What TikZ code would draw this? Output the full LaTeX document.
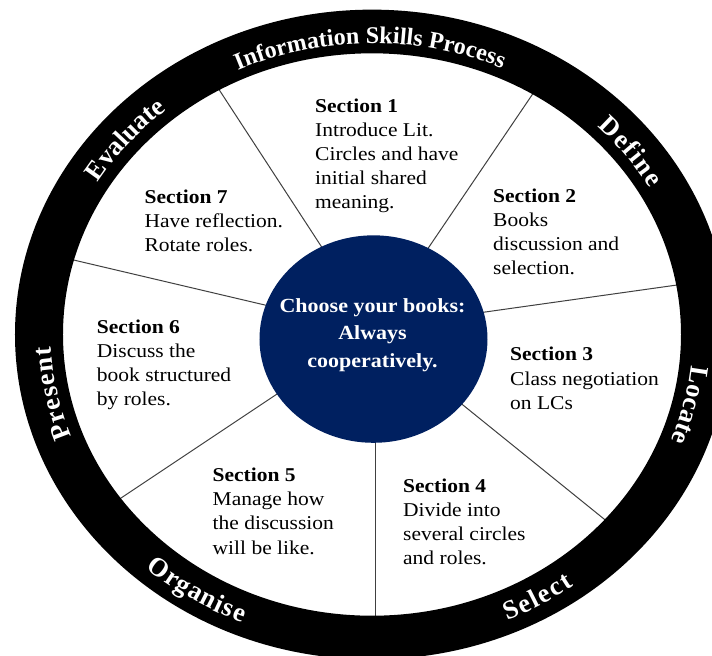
\documentclass[tikz,border=0pt]{standalone}
\usepackage{fontspec}
\setmainfont{Liberation Serif}
\usetikzlibrary{decorations.text,calc}
\definecolor{navy}{RGB}{0,32,96}
\definecolor{spokegray}{RGB}{64,64,64}
\newcommand{\ringfont}{\fontsize{24}{24}\selectfont\bfseries\color{white}}
\newcommand{\ringfontbig}{\fontsize{26.5}{26.5}\selectfont\bfseries\color{white}}
\begin{document}
\begin{tikzpicture}[x=1pt,y=1pt,yscale=0.91,transform shape,
  secbox/.style={anchor=base west, inner sep=0pt, font=\fontsize{21.5}{26.4}\selectfont, text=black},
  centertext/.style={anchor=base, inner sep=0pt, font=\fontsize{22}{30.3}\selectfont\bfseries, text=white},
  spokeline/.style={draw=spokegray, line width=1pt},
  ringlabel/.style={decorate, decoration={text along path, text align={fit to path}, text={|\ringfont|#1}}},
  ringlabelbig/.style={decorate, decoration={text along path, text align={fit to path}, text={|\ringfontbig|#1}}}]
\useasboundingbox (-372,-352.2) rectangle (340,367.6);
\clip (-372,-352.2) rectangle (340,367.6);
\fill[white] (-372,-352.2) rectangle (340,367.6);

% spokes
\coordinate (s1i) at (-51,97.3);   \coordinate (s1o) at (-154,270.9);
\coordinate (s2i) at (57,96.2);    \coordinate (s2o) at (160,263.2);
\coordinate (s3i) at (113,24.7);   \coordinate (s3o) at (305,54.4);
\coordinate (s4i) at (91,-77.5);   \coordinate (s4o) at (232,-202.7);
\coordinate (s5i) at (4,-121.4);   \coordinate (s5o) at (4,-309.3);
\coordinate (s6i) at (-95,-65.4);  \coordinate (s6o) at (-257,-184.1);
\coordinate (s7i) at (-107,32.4);  \coordinate (s7o) at (-307,84.1);
\foreach \k in {1,...,7}{
  \draw[spokeline] ($(s\k o)!1.05!(s\k i)$) -- ($(s\k i)!1.06!(s\k o)$);
}

% outer ring
\fill[black, even odd rule] (0,0) circle[radius=357] (0,0) circle[radius=309];

% centre
\node[circle, fill=navy, minimum size=228pt, inner sep=0pt] (hub) at (1.5,-5) {};
\node[centertext] (hubtext) at (0.5,24.4) {\begin{tabular}[t]{@{}c@{}}Choose your books:\\Always\\cooperatively.\end{tabular}};

% sections
\node[secbox] (sec1) at (-57,244) {\begin{tabular}[t]{@{}l@{}}\textbf{Section 1}\\Introduce Lit.\\Circles and have\\initial shared\\meaning.\end{tabular}};
\node[secbox] (sec2) at (121,145.6) {\begin{tabular}[t]{@{}l@{}}\textbf{Section 2}\\Books\\discussion and\\selection.\end{tabular}};
\node[secbox] (sec3) at (138,-29.1) {\begin{tabular}[t]{@{}l@{}}\textbf{Section 3}\\Class negotiation\\on LCs\end{tabular}};
\node[secbox] (sec4) at (31,-173.7) {\begin{tabular}[t]{@{}l@{}}\textbf{Section 4}\\Divide into\\several circles\\and roles.\end{tabular}};
\node[secbox] (sec5) at (-159.5,-162) {\begin{tabular}[t]{@{}l@{}}\textbf{Section 5}\\Manage how\\the discussion\\will be like.\end{tabular}};
\node[secbox] (sec6) at (-275.3,1.6) {\begin{tabular}[t]{@{}l@{}}\textbf{Section 6}\\Discuss the\\book structured\\by roles.\end{tabular}};
\node[secbox] (sec7) at (-227.6,144.5) {\begin{tabular}[t]{@{}l@{}}\textbf{Section 7}\\Have reflection.\\Rotate roles.\end{tabular}};

% ring labels
\path[ringlabel={Information Skills Process}] (114.8:320) arc[start angle=114.8, end angle=66.0, radius=320];
\path[ringlabelbig={Define}] (45.3:321) arc[start angle=45.3, end angle=30.0, radius=321];
\path[ringlabelbig={Locate}] (-6.1:321) arc[start angle=-6.1, end angle=-21.3, radius=321];
\path[ringlabelbig={Select}] (-66.7:342) arc[start angle=-66.7, end angle=-53.9, radius=342];
\path[ringlabelbig={Organise}] (228.6:342) arc[start angle=228.6, end angle=247.7, radius=342];
\path[ringlabelbig={Present}] (200.5:321) arc[start angle=200.5, end angle=182.4, radius=321];
\path[ringlabelbig={Evaluate}] (148.6:321) arc[start angle=148.6, end angle=129.9, radius=321];
\end{tikzpicture}
\end{document}
